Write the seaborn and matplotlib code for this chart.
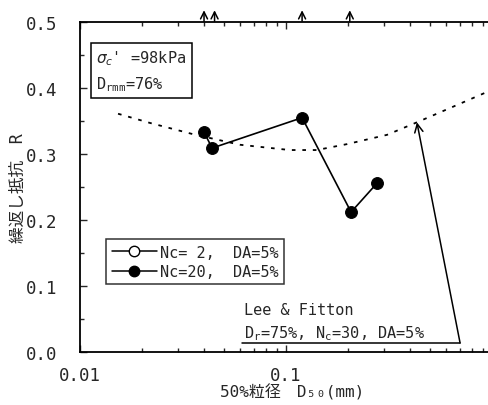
import matplotlib
matplotlib.use("Agg")
import matplotlib.pyplot as plt
from matplotlib.lines import Line2D
import numpy as np
import pandas as pd
import seaborn as sns

# ---- data ----
d50_nc20 = [0.040, 0.0438, 0.1197, 0.207, 0.277]
R_nc20 = [0.333, 0.309, 0.355, 0.212, 0.256]

# Nc=2 results lie above the plotted range (R > 0.5): shown as arrows at top
d50_nc2_offscale = [0.040, 0.0450, 0.1197, 0.204]

# Lee & Fitton curve (Dr=75%, Nc=30, DA=5%)
lf_d50 = [0.0153, 0.0219, 0.0354, 0.0598, 0.1045, 0.141, 0.198, 0.309, 0.432, 0.640, 0.946, 1.05]
lf_R = [0.361, 0.347, 0.330, 0.314, 0.306, 0.306, 0.315, 0.329, 0.348, 0.371, 0.394, 0.401]

y_ticks = [0.0, 0.1, 0.2, 0.3, 0.4, 0.5]
y_ticklabels = ["0.0", "0.1", "0.2", "0.3", "0.4", "0.5"]
x_ticks = [0.01, 0.1, 1]
x_ticklabels = ["0.01", "0.1", "1"]

sns.set_style("ticks")
plt.rcParams['font.family'] = ['DejaVu Sans Mono', 'Noto Sans CJK JP']
plt.rcParams['mathtext.fontset'] = 'custom'
plt.rcParams['mathtext.rm'] = 'DejaVu Sans Mono'
plt.rcParams['mathtext.it'] = 'DejaVu Sans:italic'

W, H = 489, 406
fig = plt.figure(figsize=(W / 100, H / 100), dpi=100)
ax = fig.add_axes([80 / W, (H - 353) / H, 412 / W, 330 / H])
ax.set_xscale("log")
ax.set_xlim(0.01, 1)
ax.set_ylim(0, 0.5)

df_lf = pd.DataFrame({"d50": lf_d50, "R": lf_R})
sns.lineplot(data=df_lf, x="d50", y="R", ax=ax, color="black", lw=1.3,
             linestyle=(0, (2.0, 3.8)), sort=False, legend=False)

df20 = pd.DataFrame({"d50": d50_nc20, "R": R_nc20})
sns.lineplot(data=df20, x="d50", y="R", ax=ax, color="black", lw=1.2,
             marker="o", markersize=8.5, markerfacecolor="black",
             markeredgecolor="black", sort=False, legend=False)

# off-scale arrows at the top for Nc=2
for xv in d50_nc2_offscale:
    ax.annotate("", xy=(xv, 0.522), xytext=(xv, 0.497),
                arrowprops=dict(arrowstyle="->,head_length=0.5,head_width=0.25",
                                lw=1.1, color="black"),
                annotation_clip=False)

# Lee & Fitton annotation: horizontal line + arrow to the curve
ax.plot([0.061, 0.70], [0.0136, 0.0136], color="black", lw=1.1)
ax.annotate("", xy=(0.432, 0.348), xytext=(0.70, 0.0136),
            arrowprops=dict(arrowstyle="->,head_length=0.6,head_width=0.3",
                            lw=1.1, color="black", shrinkA=0, shrinkB=0))
ax.text(0.0625, 0.064, "Lee & Fitton", fontsize=11, va="center", ha="left")
ax.text(0.0625, 0.030, r"D$_{\rm r}$=75%, N$_{\rm c}$=30, DA=5%",
        fontsize=11, va="center", ha="left")

# condition box
ax.text(0.0120, 0.426, "$\\sigma_c$' =98kPa\nD$_{\\rm rmm}$=76%", fontsize=11,
        va="center", ha="left", linespacing=1.5,
        bbox=dict(boxstyle="square,pad=0.35", facecolor="white",
                  edgecolor="black", lw=1.1))

# legend
handles = [
    Line2D([0], [0], color="black", lw=1.1, marker="o", markersize=7.5,
           markerfacecolor="white", markeredgecolor="black"),
    Line2D([0], [0], color="black", lw=1.1, marker="o", markersize=7.5,
           markerfacecolor="black", markeredgecolor="black"),
]
leg = ax.legend(handles, ["Nc= 2,  DA=5%", "Nc=20,  DA=5%"], loc="upper left",
                bbox_to_anchor=(0.045, 0.365), frameon=True, fancybox=False,
                edgecolor="black", fontsize=11, handlelength=3.0,
                handletextpad=0.15, borderpad=0.35, labelspacing=0.3)
leg.get_frame().set_linewidth(1.1)

ax.set_yticks(y_ticks)
ax.set_yticklabels(y_ticklabels)
ax.set_xticks(x_ticks)
ax.set_xticklabels(x_ticklabels)
ax.yaxis.set_minor_locator(matplotlib.ticker.MultipleLocator(0.05))
ax.tick_params(axis="both", which="both", direction="in", labelsize=12.5, width=1)
ax.tick_params(axis="both", which="major", length=5)
ax.tick_params(axis="y", which="major", pad=16)
ax.tick_params(axis="x", which="major", pad=10)
ax.tick_params(axis="both", which="minor", length=3)
ax.tick_params(axis="x", which="both", top=True)
ax.tick_params(axis="x", which="minor", labelbottom=False)

for s in ax.spines.values():
    s.set_linewidth(1.3)
    s.set_color("black")

ax.set_xlabel("50%粒径　D₅₀(mm)", fontsize=11.5)
ax.xaxis.set_label_coords(0.515, -0.094)
ax.set_ylabel("繰返し抵抗　R", fontsize=12)
ax.yaxis.set_label_coords(-0.128, 0.5)

fig.savefig("out.png", dpi=100)
